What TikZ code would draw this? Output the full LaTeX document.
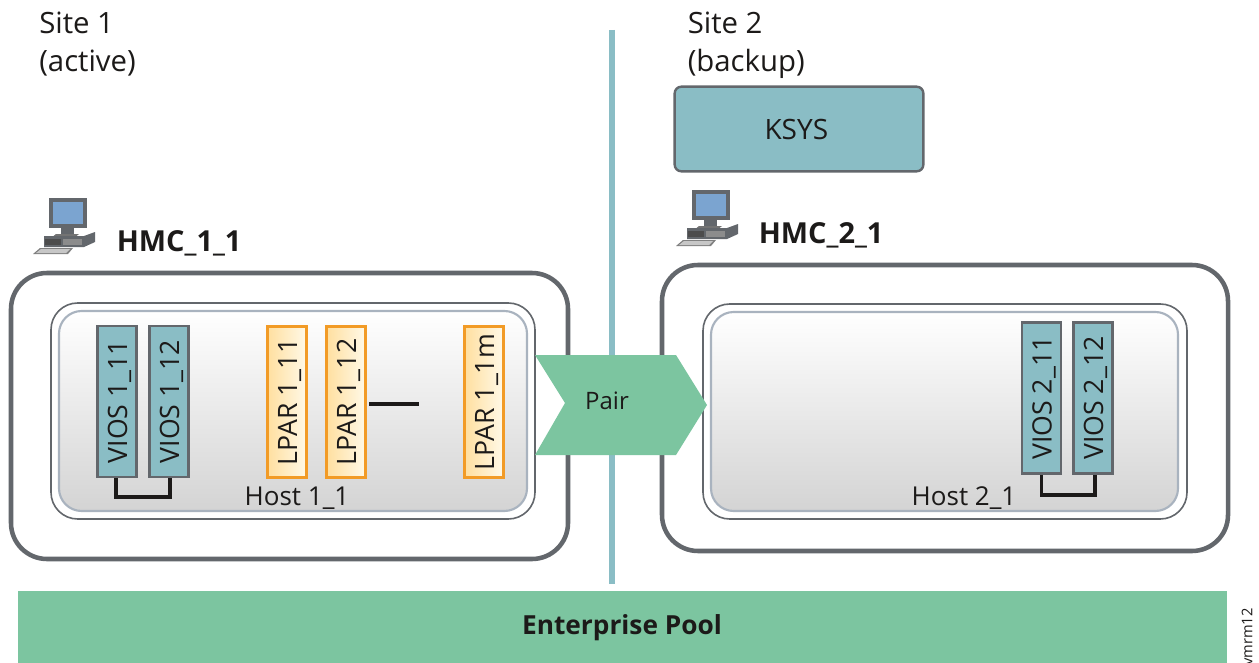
\documentclass[tikz,border=0pt]{standalone}
\usepackage{fontspec}
\setmainfont{Open Sans}
\usetikzlibrary{calc}
\definecolor{teal1}{HTML}{8ABDC5}
\definecolor{green1}{HTML}{7CC5A0}
\definecolor{edge1}{HTML}{63676C}
\definecolor{edge2}{HTML}{A9B3BF}
\definecolor{org}{HTML}{F29B26}
\definecolor{ink}{HTML}{1C1A19}
\definecolor{screen}{HTML}{7BA4D0}
\definecolor{lpartop}{HTML}{FFF9E8}
\definecolor{lparbot}{HTML}{FFDF9F}
\newcommand{\boxlabel}[1]{\raisebox{-7.5pt}[0pt][0pt]{#1}}
\tikzset{
  x=0.75pt,y=-0.75pt,
  txt/.style={font=\fontsize{19.5}{23}\selectfont,text=ink,inner sep=0pt},
  sitetxt/.style={font=\fontsize{22}{28}\selectfont,text=ink,inner sep=0pt,align=left,anchor=north west},
  hmctxt/.style={font=\fontsize{21.7}{25}\selectfont\bfseries,text=ink,inner sep=0pt,anchor=west},
  outerbox/.style={draw=edge1,line width=3.4pt,rounded corners=27pt,fill=white},
  hostouter/.style={draw=edge1,line width=1.2pt,rounded corners=20pt,fill=white},
  hostinner/.style={draw=edge2,line width=1.6pt,rounded corners=17pt,top color=white,bottom color=black!17},
  vios/.style={draw=edge1,line width=1.8pt,fill=teal1,minimum width=113.5pt,minimum height=29.5pt,inner sep=0pt,rotate=90,font=\fontsize{20}{22}\selectfont,text=ink},
  lpar/.style={draw=org,line width=2pt,left color=lparbot,right color=lpartop,minimum width=113.5pt,minimum height=29.5pt,inner sep=0pt,rotate=90,font=\fontsize{20}{22}\selectfont,text=ink},
  link/.style={draw=ink,line width=2.9pt},
  pics/hmcicon/.style={code={
    \fill[edge1] (1,0) rectangle (39,30);
    \fill[screen] (5,4) rectangle (35,26);
    \fill[edge1] (13,30) rectangle (26,36);
    \fill[black!55] (8,36) -- (31,36) -- (26,40) -- (3,40) -- cycle;
    \fill[edge1] (-4,38) -- (36,38) -- (47,34) -- (47,44) -- (36,49) -- (-4,49) -- cycle;
    \fill[black!70] (-3,41) rectangle (13,47);
    \fill[black!45] (15,41) rectangle (34,47);
    \fill[black!50] (-15,56) -- (-8,50) -- (25,50) -- (20,56) -- cycle;
    \fill[black!22] (-12,55) -- (-7,51) -- (22,51) -- (18,55) -- cycle;
  }}
}
\begin{document}
\begin{tikzpicture}
\useasboundingbox (0,0) rectangle (1259,663);
\clip (0,0) rectangle (1259,663);
\fill[white] (0,0) rectangle (1259,663);

\node[sitetxt] (site1) at (39,12) {Site 1\\(active)};
\node[sitetxt] (site2) at (687.5,12) {Site 2\\(backup)};

\coordinate (divTop) at (612,30);
\coordinate (divBot) at (612,584);
\draw[teal1,line width=3.8pt] (divTop) -- (divBot);

\node[draw=edge1,line width=1.8pt,fill=teal1,rounded corners=5pt,minimum width=186.5pt,minimum height=63.5pt,inner sep=0pt,font=\fontsize{21}{24}\selectfont,text=ink] (ksys) at (799,129) {\makebox[0pt]{\hspace{-4pt}KSYS}};

\pic at (48,198) {hmcicon};
\node[hmctxt] (hmc1) at (116.5,243) {HMC\_1\_1};
\pic at (691,190) {hmcicon};
\node[hmctxt] (hmc2) at (758.5,235) {HMC\_2\_1};

% site 1
\draw[outerbox] (11,273) rectangle (568,559);
\draw[hostouter] (51,303) rectangle (535,519);
\draw[hostinner] (59,311) rectangle (527,511);
% site 2
\draw[outerbox] (662,265) rectangle (1228,551);
\draw[hostouter] (703,304) rectangle (1187,519);
\draw[hostinner] (711,312) rectangle (1178,511);

\node[vios] (v11) at (117,401.5) {\boxlabel{VIOS 1\_11}};
\node[vios] (v12) at (169,401.5) {\boxlabel{VIOS 1\_12}};
\node[lpar] (l11) at (287,402) {\boxlabel{LPAR 1\_11}};
\node[lpar] (l12) at (346,402) {\boxlabel{LPAR 1\_12}};
\node[lpar] (l1m) at (484,402) {\boxlabel{LPAR 1\_1m}};
\node[vios] (v21) at (1041.5,398) {\boxlabel{VIOS 2\_11}};
\node[vios] (v22) at (1093,398) {\boxlabel{VIOS 2\_12}};

\draw[link] ($(v11.west)+(-1,0)$) -- ++(0,19) -| ($(v12.west)+(1,0)$);
\draw[link] (v21.west) -- ++(0,20) -| ($(v22.west)+(2,0)$);
\coordinate (lend) at (419,404);
\draw[link] (l12.south |- lend) ++(2,0) -- (lend);

\node[txt] (h1) at (297,498.5) {Host 1\_1};
\node[txt] (h2) at (964,498.5) {Host 2\_1};

\fill[green1] (535,355) -- (676,355) -- (707,405) -- (676,455) -- (535,455) -- (565,403) -- cycle;
\node[txt,font=\fontsize{18}{22}\selectfont] (pair) at (607,401) {Pair};

\fill[green1] (18,591) rectangle (1227,663);
\node[txt,font=\fontsize{19.7}{24}\selectfont\bfseries] (pool) at (622,628) {Enterprise Pool};

\node[rotate=90,anchor=east,inner sep=0pt,font=\fontsize{11}{13}\selectfont,text=ink] (fig) at (1247,608) {vmrm12};
\end{tikzpicture}
\end{document}
